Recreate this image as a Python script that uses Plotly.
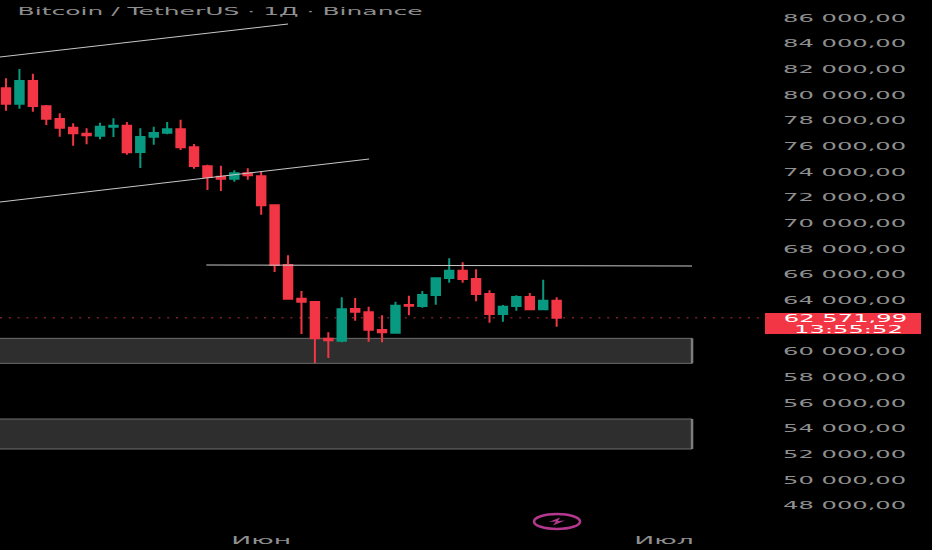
import plotly.graph_objects as go
import pandas as pd

# Daily BTC candles, 2024-05-13 onwards
dates = pd.date_range("2024-05-13", periods=42, freq="D")
open_ = [80444, 79250, 81016, 79043, 78056, 77381, 76914, 76758, 77459, 77537, 75486, 76680, 76992, 77251,
         75850, 74370, 73565, 73409, 73824, 73591, 71333, 66686, 64064, 63804, 60949, 60793, 63259, 62999,
         61624, 61416, 63571, 63493, 64349, 65673, 66244, 65596, 64427, 62870, 63493, 64194, 63233, 63908]
high = [81223, 81950, 81587, 79146, 78497, 77719, 77329, 77770, 78108, 77822, 77329, 77459, 77822, 78004,
        76109, 74499, 74422, 74058, 74214, 73980, 71400, 67439, 64661, 63882, 61442, 64168, 64116, 63441,
        62766, 63830, 64297, 64661, 65725, 67205, 66893, 66348, 64713, 63570, 64323, 64505, 65544, 64168]
low = [78705, 78861, 78627, 77589, 76680, 75979, 76083, 76472, 76654, 75278, 74240, 76057, 76862, 75642,
       74188, 72527, 72449, 73176, 73331, 70606, 66141, 64012, 61312, 59054, 59443, 60663, 62350, 60715,
       60663, 61416, 62766, 63363, 63597, 65310, 65310, 63856, 62195, 62273, 63129, 63233, 63233, 61883]
close = [79250, 81016, 79068, 78082, 77381, 76940, 76784, 77459, 77537, 75460, 76654, 76966, 77251, 75850,
         74395, 73539, 73409, 73824, 73669, 71332, 66686, 64064, 63830, 60975, 60819, 63233, 63051, 61650,
         61442, 63519, 63519, 64349, 65647, 66244, 65596, 64427, 62870, 63441, 64194, 63233, 63908, 62571.99]

price_ticks = [86000, 84000, 82000, 80000, 78000, 76000, 74000, 72000, 70000, 68000, 66000, 64000,
               60000, 58000, 56000, 54000, 52000, 50000, 48000]
price_labels = ["86 000,00", "84 000,00", "82 000,00", "80 000,00", "78 000,00", "76 000,00", "74 000,00",
                "72 000,00", "70 000,00", "68 000,00", "66 000,00", "64 000,00", "60 000,00", "58 000,00",
                "56 000,00", "54 000,00", "52 000,00", "50 000,00", "48 000,00"]
month_ticks = ["2024-06-01", "2024-07-01"]
month_labels = ["Июн", "Июл"]

last_price = 62571.99
x_start = "2024-05-12 13:16"
x_end = "2024-07-09 18:43"
zone_end = "2024-07-03 02:00"
W, H = 932, 550
PLOT_R, PLOT_B = 782, 527
RED = "#f23645"
GREEN = "#089981"


def px(x):
    return x / PLOT_R


def py(y):
    return 1 - y / PLOT_B


fig = go.Figure(go.Candlestick(
    x=dates, open=open_, high=high, low=low, close=close,
    increasing=dict(line=dict(color=GREEN, width=2), fillcolor=GREEN),
    decreasing=dict(line=dict(color=RED, width=2), fillcolor=RED),
    whiskerwidth=0, hoverinfo="skip",
))

# channel lines and level
line_style = dict(color="#c8c8c8", width=1)
fig.add_shape(type="line", x0=x_start, y0=82885, x1="2024-06-03", y1=85455, line=line_style)
fig.add_shape(type="line", x0=x_start, y0=71592, x1="2024-06-09 01:00", y1=74941, line=line_style)
fig.add_shape(type="line", x0="2024-05-27 22:00", y0=66686, x1=zone_end, y1=66608, line=line_style)

# support zones
zone_line = dict(color="#6e6e6e", width=1)
edge_line = dict(color="#7c7c7c", width=2.5)
fig.add_shape(type="rect", x0="2024-05-01", y0=59028, x1=zone_end, y1=60975, fillcolor="#2e2e2e",
              line=zone_line, layer="below")
fig.add_shape(type="line", x0=zone_end, y0=59028, x1=zone_end, y1=60975, line=edge_line, layer="below")
fig.add_shape(type="rect", x0="2024-05-01", y0=52356, x1=zone_end, y1=54692, fillcolor="#2e2e2e",
              line=zone_line, layer="below")
fig.add_shape(type="line", x0=zone_end, y0=52356, x1=zone_end, y1=54692, line=edge_line, layer="below")

# last price
fig.add_shape(type="line", xref="paper", x0=0, x1=px(760), y0=last_price, y1=last_price, layer="below",
              line=dict(color="#7a1f2a", width=1.5, dash="2px,6.8px"))
fig.add_shape(type="rect", xref="paper", yref="paper", x0=px(765), x1=px(921), y0=py(334), y1=py(313),
              fillcolor=RED, line_width=0)

# bolt badge
BADGE = "#b5388f"
fig.add_shape(type="circle", xref="paper", yref="paper", x0=px(534), x1=px(580), y0=py(529), y1=py(514),
              line=dict(color=BADGE, width=2.5))
bolt = [(560, 517.5), (549, 522), (556, 521.5), (553, 525.5), (565, 520.5), (558, 521)]
bolt_path = "M " + " L ".join(f"{px(a):.5f},{py(b):.5f}" for a, b in bolt) + " Z"
fig.add_shape(type="path", xref="paper", yref="paper", path=bolt_path, fillcolor=BADGE, line_width=0)

fig.add_annotation(text="Bitcoin / TetherUS · 1Д · Binance", xref="paper", yref="paper", x=px(137), y=py(11),
                   xanchor="left", yanchor="middle", showarrow=False,
                   font=dict(family="DejaVu Sans", size=10, color="#8f8f8f"))
fig.add_annotation(text="62 571,99", xref="paper", yref="paper", x=px(873), y=py(318.5), showarrow=False,
                   font=dict(family="DejaVu Sans", size=10, color="#ffffff"))
fig.add_annotation(text="13:55:52", xref="paper", yref="paper", x=px(873), y=py(329), showarrow=False,
                   font=dict(family="DejaVu Sans", size=10, color="#ffffff"))

fig.update_layout(
    width=W, height=H, margin=dict(l=0, r=W - PLOT_R, t=0, b=H - PLOT_B, pad=0),
    paper_bgcolor="#000000", plot_bgcolor="#000000", showlegend=False, boxgap=0.1,
    font=dict(family="DejaVu Sans", size=10, color="#8f8f8f"),
    xaxis=dict(range=[x_start, x_end], rangeslider_visible=False, showgrid=False, zeroline=False,
               tickmode="array", tickvals=month_ticks, ticktext=month_labels, ticks="", showline=False,
               ticklabelstandoff=6),
    yaxis=dict(range=[46281, 87324], side="right", showgrid=False, zeroline=False,
               tickmode="array", tickvals=price_ticks, ticktext=price_labels, ticks="", showline=False,
               ticklabelshift=1),
)

# the reference is stretched sideways, so stretch the real text the same way
stretch = """
document.body.style.margin = '0';
function widen(selector, factor) {
    document.querySelectorAll(selector).forEach(function (el) {
        el.setAttribute('lengthAdjust', 'spacingAndGlyphs');
        el.setAttribute('textLength', el.getComputedTextLength() * factor);
    });
}
widen('.ytick text, .annotation-text', 2.42);
widen('.xtick text', 2.67);
var title = document.querySelector('.annotation-text');
title.setAttribute('textLength', 405);
"""
fig.write_html("out.html", post_script=stretch, config=dict(displayModeBar=False))
